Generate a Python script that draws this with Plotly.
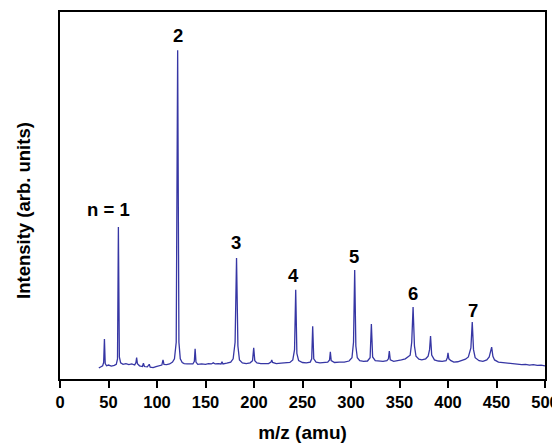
import plotly.graph_objects as go

# m/z values (amu)
mz = [40, 42, 44, 45, 45.8, 46.6, 48, 50, 53, 56, 58, 59.3, 60.2, 61.2, 62.5, 65, 68, 71, 74, 77,
      78.3, 79, 79.8, 82, 85, 86, 87, 90, 92, 93, 96, 99, 102, 105, 106.2, 107.2, 110, 113, 116, 118,
      119.8, 121.3, 122.6, 124, 126, 128, 131, 134, 137, 138.5, 139.3, 140.2, 142, 146, 150, 153, 156,
      158, 160, 163, 166, 167, 168, 172, 176, 178.5, 180.5, 182, 183.4, 185, 188, 192, 196, 198.5,
      199.7, 200.8, 203, 207, 211, 215, 217.5, 218.3, 219.2, 223, 228, 233, 237, 240, 241.8, 243,
      244.2, 246, 250, 254, 258, 259.5, 260.5, 261.6, 264, 268, 272, 276, 277.9, 278.7, 279.6, 283,
      288, 293, 298, 301, 302.6, 303.8, 305, 306.5, 309, 313, 317, 319.7, 321, 322.3, 325, 329, 333,
      337, 338.6, 339.5, 340.5, 344, 348, 352, 356, 358, 361, 362.6, 364, 365.4, 367, 370, 373, 377,
      379.5, 381, 382, 383.2, 386, 390, 394, 398, 399.3, 400, 400.9, 403, 406, 410, 414, 418, 421,
      423.6, 425, 426.3, 428, 432, 436, 440, 442.5, 444, 445, 446.3, 448, 452, 456, 460, 464, 468,
      472, 476, 480, 484, 488, 492, 496, 500]

# normalised intensity (arb. units)
intensity = [0.030, 0.034, 0.036, 0.045, 0.109, 0.042, 0.036, 0.038, 0.035, 0.037, 0.040, 0.055, 0.414,
             0.060, 0.044, 0.040, 0.042, 0.039, 0.041, 0.038, 0.045, 0.058, 0.042, 0.036, 0.034, 0.043,
             0.034, 0.033, 0.040, 0.032, 0.031, 0.034, 0.036, 0.038, 0.052, 0.040, 0.039, 0.041, 0.046,
             0.055, 0.100, 0.896, 0.100, 0.055, 0.045, 0.042, 0.041, 0.040, 0.041, 0.048, 0.082, 0.046,
             0.040, 0.041, 0.040, 0.042, 0.041, 0.044, 0.041, 0.042, 0.041, 0.047, 0.041, 0.043, 0.046,
             0.055, 0.100, 0.330, 0.090, 0.052, 0.044, 0.042, 0.044, 0.050, 0.085, 0.050, 0.044, 0.042,
             0.043, 0.042, 0.046, 0.052, 0.045, 0.042, 0.043, 0.043, 0.045, 0.052, 0.080, 0.243, 0.070,
             0.050, 0.045, 0.044, 0.046, 0.055, 0.144, 0.055, 0.046, 0.044, 0.045, 0.046, 0.052, 0.074,
             0.050, 0.045, 0.046, 0.046, 0.049, 0.058, 0.100, 0.297, 0.090, 0.058, 0.050, 0.048, 0.049,
             0.058, 0.150, 0.060, 0.050, 0.048, 0.048, 0.050, 0.055, 0.076, 0.052, 0.048, 0.049, 0.052,
             0.055, 0.060, 0.065, 0.100, 0.196, 0.090, 0.062, 0.054, 0.052, 0.055, 0.062, 0.080, 0.117,
             0.065, 0.052, 0.049, 0.048, 0.050, 0.058, 0.071, 0.055, 0.050, 0.046, 0.047, 0.050, 0.054,
             0.060, 0.085, 0.155, 0.080, 0.058, 0.050, 0.048, 0.052, 0.060, 0.080, 0.087, 0.062, 0.052,
             0.046, 0.045, 0.042, 0.043, 0.040, 0.041, 0.039, 0.040, 0.038, 0.039, 0.037, 0.038, 0.036]

# cluster-size labels
peak_labels = ["n = 1", "2", "3", "4", "5", "6", "7"]
label_mz = [50, 121.5, 181.5, 241, 303, 364, 425.5]
label_y = [0.463, 0.937, 0.373, 0.281, 0.335, 0.234, 0.188]

x_ticks = [0, 50, 100, 150, 200, 250, 300, 350, 400, 450, 500]

FONT = "Liberation Sans, Arial, sans-serif"

fig = go.Figure()
fig.add_trace(go.Scatter(x=mz, y=intensity, mode="lines",
                         line=dict(color="#3636a4", width=1.3), showlegend=False))

for t, xx, yy in zip(peak_labels, label_mz, label_y):
    fig.add_annotation(x=xx, y=yy, text=t, showarrow=False, xanchor="center", yanchor="middle",
                       font=dict(family=FONT, size=18.5, color="black", weight="bold"))

# y-axis title (placed slightly below the axis centre, as in the original)
fig.add_annotation(xref="paper", yref="paper", x=0, y=0.458, xshift=-36, text="Intensity (arb. units)",
                   textangle=-90, showarrow=False, xanchor="center", yanchor="middle",
                   font=dict(family=FONT, size=18.5, color="black", weight="bold"))

# page body adds an 8px offset, so the figure is sized to fit the remaining window
fig.update_layout(
    width=552, height=435,
    margin=dict(l=52, r=15, t=4, b=64),
    paper_bgcolor="white", plot_bgcolor="white",
    font=dict(family=FONT, color="black"),
)
fig.update_xaxes(range=[0, 500], tickvals=x_ticks, ticks="outside", ticklen=7, tickwidth=1.5,
                 tickcolor="black", showline=True, linecolor="black", linewidth=1.5, mirror=True,
                 showgrid=False, zeroline=False, automargin=False,
                 tickfont=dict(family=FONT, size=16.5, color="black", weight="bold"),
                 title=dict(text="m/z (amu)", standoff=22,
                            font=dict(family=FONT, size=19, color="black", weight="bold")))
fig.update_yaxes(range=[0, 1], showticklabels=False, ticks="", showline=True, linecolor="black",
                 linewidth=1.5, mirror=True, showgrid=False, zeroline=False, automargin=False)

fig.write_html("out.html")
